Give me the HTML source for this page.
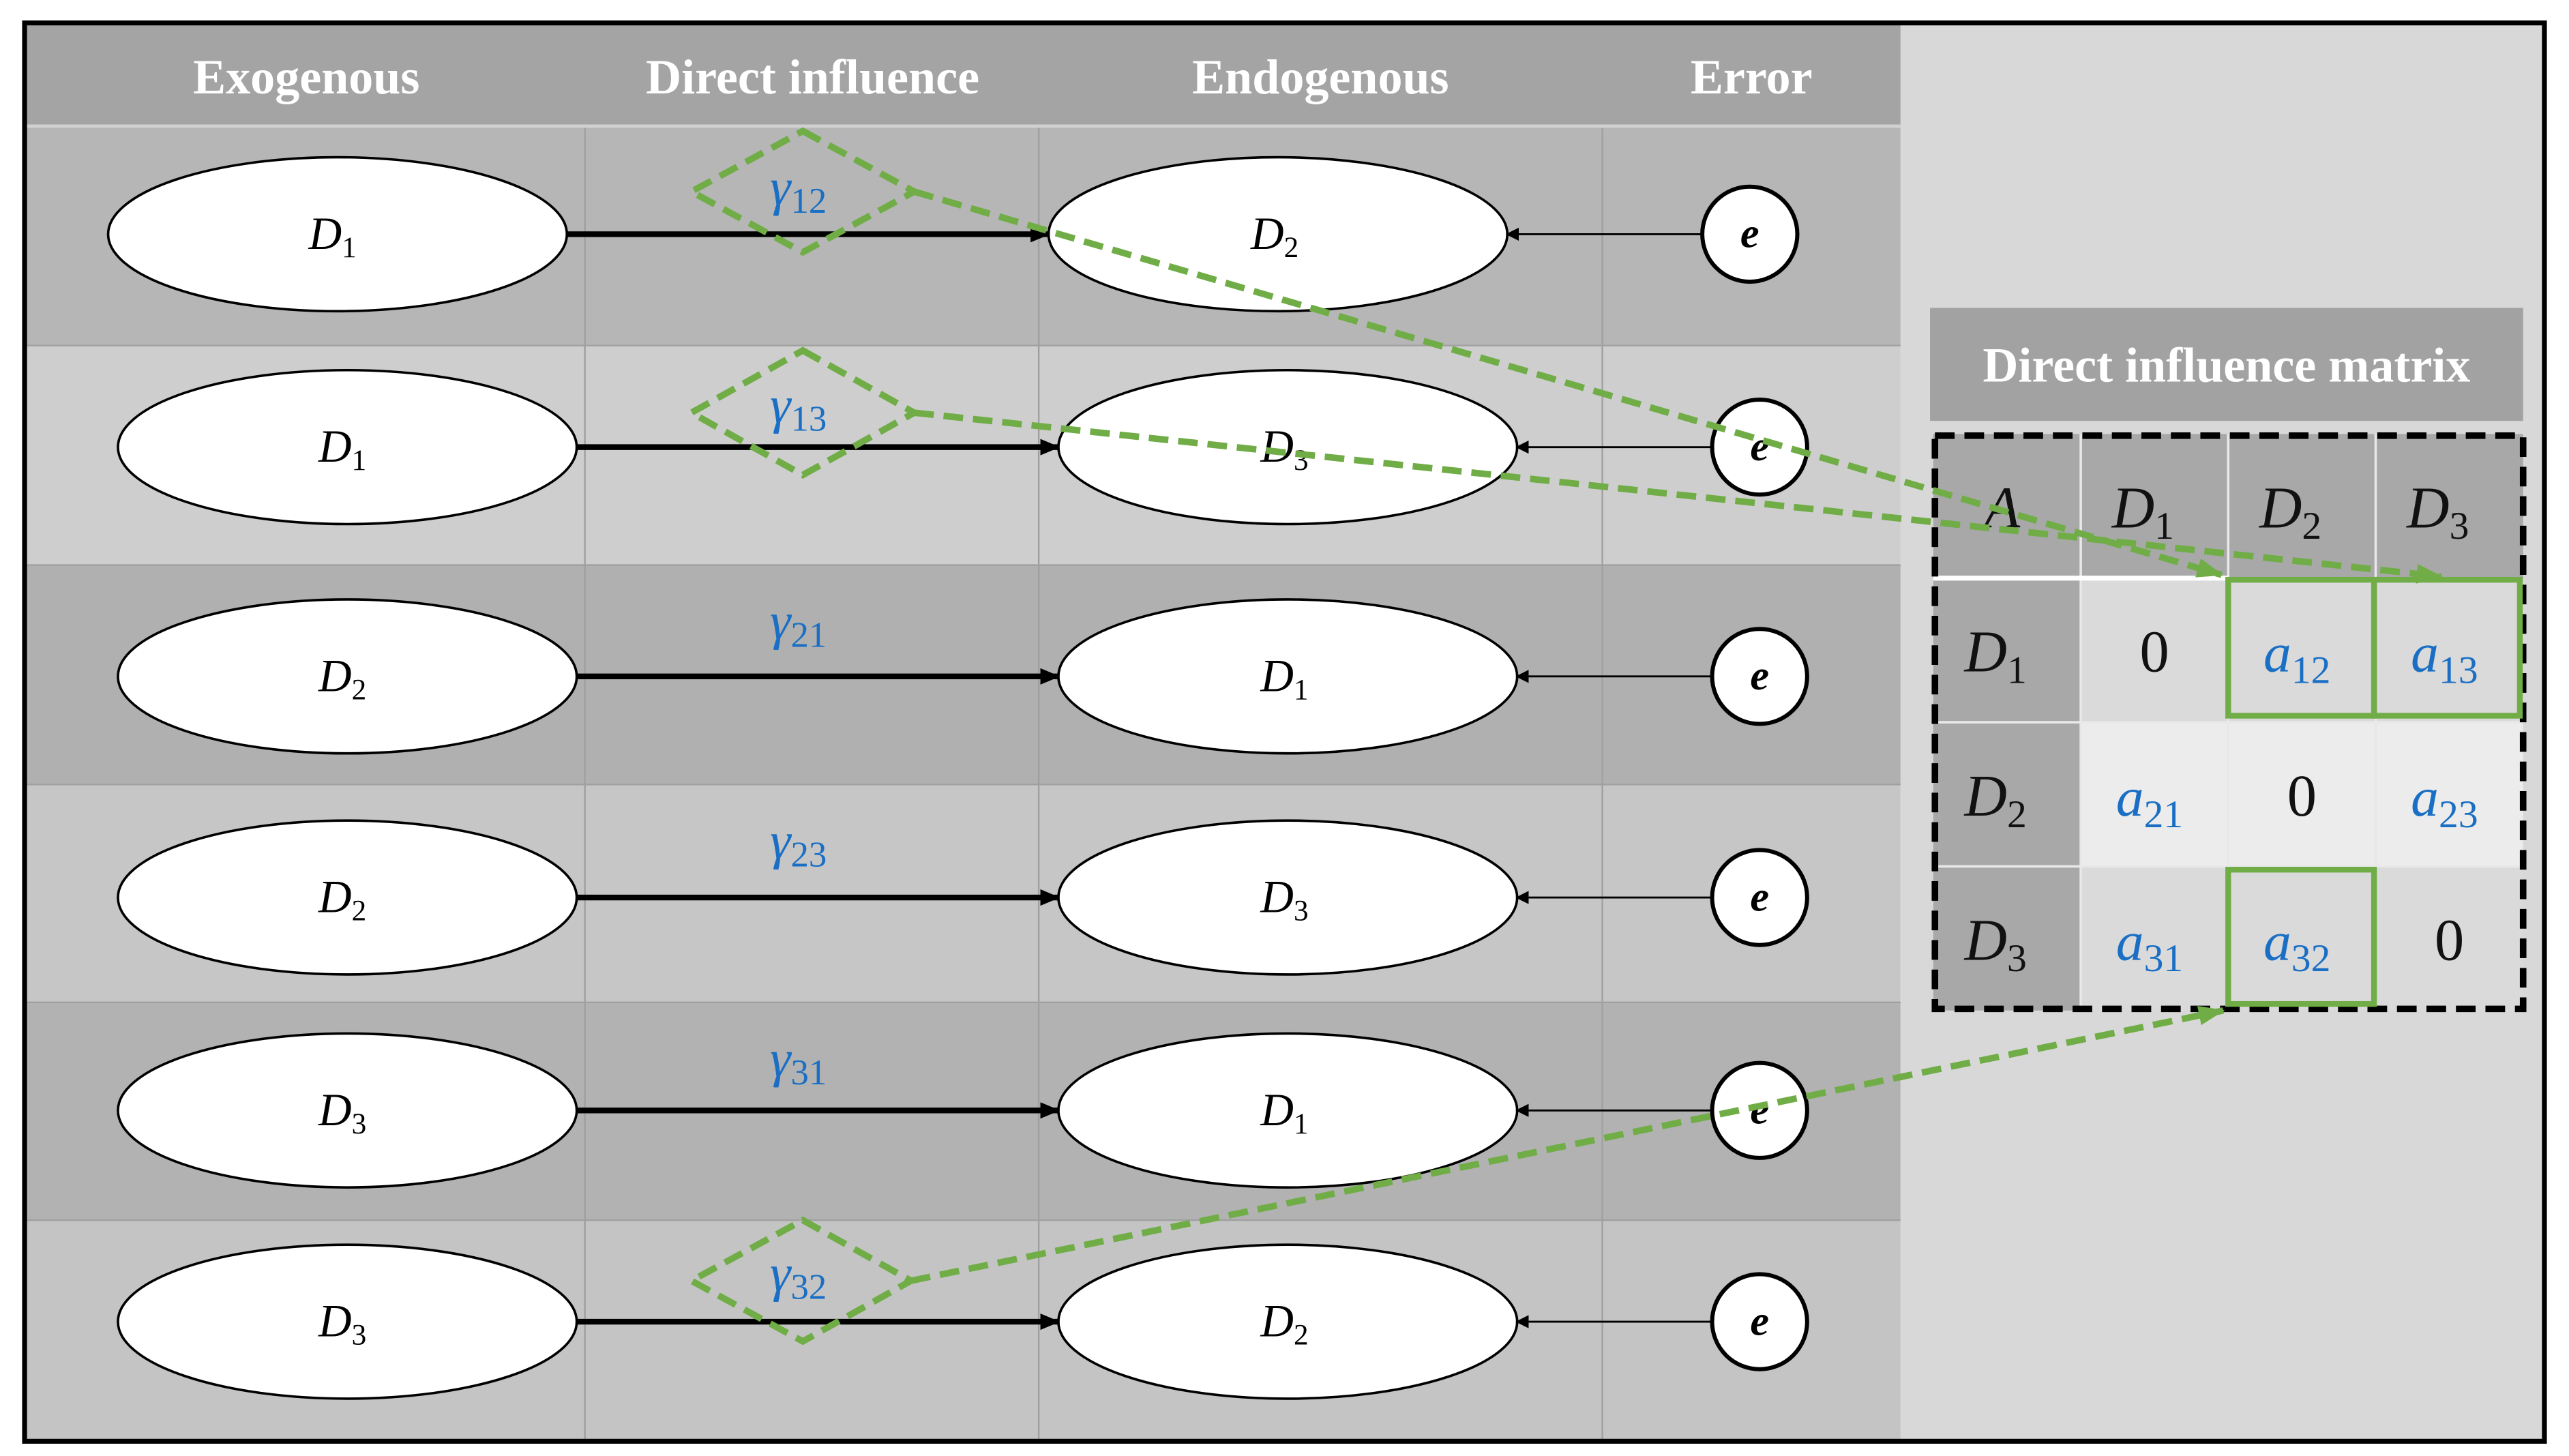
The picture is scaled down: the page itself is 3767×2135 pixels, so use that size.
<!DOCTYPE html>
<html><head><meta charset="utf-8"><style>
html,body{margin:0;padding:0;background:#fff;}
svg{display:block;}
text{font-family:"Liberation Serif",serif;}
</style></head><body>
<svg width="3767" height="2135" viewBox="0 0 1568 889" preserveAspectRatio="none" xmlns="http://www.w3.org/2000/svg">
<defs>
<marker id="ah" markerWidth="8" markerHeight="8" refX="7" refY="4" orient="auto" markerUnits="userSpaceOnUse"><path d="M0,0 L8,4 L0,8 Z" fill="#000"/></marker>
<marker id="ah2" markerWidth="12" markerHeight="10" refX="11" refY="5" orient="auto" markerUnits="userSpaceOnUse"><path d="M0,0 L12,5 L0,10 Z" fill="#000"/></marker>
<marker id="ag" markerWidth="16" markerHeight="12" refX="15" refY="6" orient="auto" markerUnits="userSpaceOnUse"><path d="M0,0 L16,6 L0,12 Z" fill="#70ad47"/></marker>
</defs>
<rect x="0" y="0" width="1568" height="889" fill="#fff"/>
<!-- right panel -->
<rect x="1160" y="15" width="393" height="866" fill="#d8d8d8"/>
<!-- header -->
<rect x="16" y="15" width="1144" height="62" fill="#a4a4a4"/>
<rect x="16" y="76" width="1144" height="2" fill="#d0d0d0"/>
<!-- rows -->
<rect x="16" y="78" width="1144" height="133" fill="#b6b6b6"/>
<rect x="16" y="211" width="1144" height="134" fill="#cecece"/>
<rect x="16" y="345" width="1144" height="134" fill="#b0b0b0"/>
<rect x="16" y="479" width="1144" height="133" fill="#c6c6c6"/>
<rect x="16" y="612" width="1144" height="133" fill="#b2b2b2"/>
<rect x="16" y="745" width="1144" height="135" fill="#c4c4c4"/>
<g stroke="#a0a0a0" stroke-width="1">
<line x1="357" y1="78" x2="357" y2="880"/><line x1="634" y1="78" x2="634" y2="880"/><line x1="978" y1="78" x2="978" y2="880"/>
<line x1="16" y1="211" x2="1160" y2="211"/><line x1="16" y1="345" x2="1160" y2="345"/><line x1="16" y1="479" x2="1160" y2="479"/><line x1="16" y1="612" x2="1160" y2="612"/><line x1="16" y1="745" x2="1160" y2="745"/>
</g>
<g fill="#fff" font-size="30" text-anchor="middle" font-weight="bold">
<text x="187" y="57">Exogenous</text>
<text x="496" y="57">Direct influence</text>
<text x="806" y="57">Endogenous</text>
<text x="1069" y="57">Error</text>
</g>
<!-- rows content -->
<g stroke="#000" stroke-width="1.5" fill="#fff">
<ellipse cx="206" cy="143" rx="140" ry="47"/><ellipse cx="780" cy="143" rx="140" ry="47"/>
<ellipse cx="212" cy="273" rx="140" ry="47"/><ellipse cx="786" cy="273" rx="140" ry="47"/>
<ellipse cx="212" cy="413" rx="140" ry="47"/><ellipse cx="786" cy="413" rx="140" ry="47"/>
<ellipse cx="212" cy="548" rx="140" ry="47"/><ellipse cx="786" cy="548" rx="140" ry="47"/>
<ellipse cx="212" cy="678" rx="140" ry="47"/><ellipse cx="786" cy="678" rx="140" ry="47"/>
<ellipse cx="212" cy="807" rx="140" ry="47"/><ellipse cx="786" cy="807" rx="140" ry="47"/>
</g>
<g stroke="#000" stroke-width="2.5" fill="#fff">
<circle cx="1068" cy="143" r="29"/><circle cx="1074" cy="273" r="29"/><circle cx="1074" cy="413" r="29"/><circle cx="1074" cy="548" r="29"/><circle cx="1074" cy="678" r="29"/><circle cx="1074" cy="807" r="29"/>
</g>
<g stroke="#000" stroke-width="3.5" marker-end="url(#ah2)">
<line x1="346" y1="143" x2="640" y2="143"/>
<line x1="352" y1="273" x2="646" y2="273"/>
<line x1="352" y1="413" x2="646" y2="413"/>
<line x1="352" y1="548" x2="646" y2="548"/>
<line x1="352" y1="678" x2="646" y2="678"/>
<line x1="352" y1="807" x2="646" y2="807"/>
</g>
<g stroke="#000" stroke-width="1.2" marker-end="url(#ah)">
<line x1="1039" y1="143" x2="920" y2="143"/>
<line x1="1045" y1="273" x2="926" y2="273"/>
<line x1="1045" y1="413" x2="926" y2="413"/>
<line x1="1045" y1="548" x2="926" y2="548"/>
<line x1="1045" y1="678" x2="926" y2="678"/>
<line x1="1045" y1="807" x2="926" y2="807"/>
</g>
<g font-size="28" font-style="italic" text-anchor="middle" fill="#000">
<text x="203" y="152">D<tspan font-size="18" font-style="normal" dy="5">1</tspan></text>
<text x="778" y="152">D<tspan font-size="18" font-style="normal" dy="5">2</tspan></text>
<text x="209" y="282">D<tspan font-size="18" font-style="normal" dy="5">1</tspan></text>
<text x="784" y="282">D<tspan font-size="18" font-style="normal" dy="5">3</tspan></text>
<text x="209" y="422">D<tspan font-size="18" font-style="normal" dy="5">2</tspan></text>
<text x="784" y="422">D<tspan font-size="18" font-style="normal" dy="5">1</tspan></text>
<text x="209" y="557">D<tspan font-size="18" font-style="normal" dy="5">2</tspan></text>
<text x="784" y="557">D<tspan font-size="18" font-style="normal" dy="5">3</tspan></text>
<text x="209" y="687">D<tspan font-size="18" font-style="normal" dy="5">3</tspan></text>
<text x="784" y="687">D<tspan font-size="18" font-style="normal" dy="5">1</tspan></text>
<text x="209" y="816">D<tspan font-size="18" font-style="normal" dy="5">3</tspan></text>
<text x="784" y="816">D<tspan font-size="18" font-style="normal" dy="5">2</tspan></text>
</g>
<g font-size="26" font-style="italic" font-weight="bold" text-anchor="middle" fill="#000">
<text x="1068" y="151">e</text><text x="1074" y="281">e</text><text x="1074" y="421">e</text><text x="1074" y="556">e</text><text x="1074" y="686">e</text><text x="1074" y="815">e</text>
</g>
<g font-size="32" font-style="italic" fill="#1a6fc4">
<text x="470" y="125">γ<tspan font-size="22" font-style="normal" dy="5">12</tspan></text>
<text x="470" y="258">γ<tspan font-size="22" font-style="normal" dy="5">13</tspan></text>
<text x="470" y="390">γ<tspan font-size="22" font-style="normal" dy="5">21</tspan></text>
<text x="470" y="524">γ<tspan font-size="22" font-style="normal" dy="5">23</tspan></text>
<text x="470" y="657">γ<tspan font-size="22" font-style="normal" dy="5">31</tspan></text>
<text x="470" y="788">γ<tspan font-size="22" font-style="normal" dy="5">32</tspan></text>
</g>
<!-- matrix title -->
<rect x="1178" y="188" width="362" height="69" fill="#a2a2a2"/>
<text x="1359" y="233" font-size="30" font-weight="bold" fill="#fff" text-anchor="middle">Direct influence matrix</text>
<!-- matrix -->
<rect x="1180" y="265" width="360" height="352" fill="#dadada"/>
<rect x="1180" y="265" width="360" height="88" fill="#a8a8a8"/>
<rect x="1180" y="265" width="90" height="352" fill="#a8a8a8"/>
<rect x="1270" y="441" width="270" height="88" fill="#ececec"/>
<g stroke="#e8e8e8" stroke-width="1.5">
<line x1="1270" y1="265" x2="1270" y2="617"/><line x1="1360" y1="265" x2="1360" y2="617"/><line x1="1450" y1="265" x2="1450" y2="617"/>
<line x1="1180" y1="441" x2="1540" y2="441"/><line x1="1180" y1="529" x2="1540" y2="529"/>
</g>
<line x1="1180" y1="353" x2="1360" y2="353" stroke="#fff" stroke-width="3"/>
<rect x="1181" y="266" width="359" height="350" fill="none" stroke="#000" stroke-width="4" stroke-dasharray="12,6"/>
<g font-size="36" font-style="italic" text-anchor="middle" fill="#111">
<text x="1222" y="322">A</text>
<text x="1308" y="322">D<tspan font-size="24" font-style="normal" dy="7">1</tspan></text>
<text x="1398" y="322">D<tspan font-size="24" font-style="normal" dy="7">2</tspan></text>
<text x="1488" y="322">D<tspan font-size="24" font-style="normal" dy="7">3</tspan></text>
<text x="1218" y="410">D<tspan font-size="24" font-style="normal" dy="7">1</tspan></text>
<text x="1218" y="498">D<tspan font-size="24" font-style="normal" dy="7">2</tspan></text>
<text x="1218" y="586">D<tspan font-size="24" font-style="normal" dy="7">3</tspan></text>
</g>
<g font-size="36" text-anchor="middle" fill="#111">
<text x="1315" y="410">0</text><text x="1405" y="498">0</text><text x="1495" y="586">0</text>
</g>
<g font-size="34" font-style="italic" text-anchor="middle" fill="#1a6fc4">
<text x="1402" y="410">a<tspan font-size="24" font-style="normal" dy="7">12</tspan></text>
<text x="1492" y="410">a<tspan font-size="24" font-style="normal" dy="7">13</tspan></text>
<text x="1312" y="498">a<tspan font-size="24" font-style="normal" dy="7">21</tspan></text>
<text x="1492" y="498">a<tspan font-size="24" font-style="normal" dy="7">23</tspan></text>
<text x="1312" y="586">a<tspan font-size="24" font-style="normal" dy="7">31</tspan></text>
<text x="1402" y="586">a<tspan font-size="24" font-style="normal" dy="7">32</tspan></text>
</g>
<g fill="none" stroke="#70ad47" stroke-width="3.5">
<rect x="1360" y="354" width="89" height="83"/>
<rect x="1449" y="354" width="89" height="83"/>
<rect x="1360" y="531" width="89" height="82"/>
</g>
<!-- green dashed diamonds and connectors -->
<g fill="none" stroke="#70ad47" stroke-width="4" stroke-dasharray="12,6">
<path d="M490,80 L558,117 L490,154 L422,117 Z"/>
<path d="M490,214 L558,252 L490,290 L422,252 Z"/>
<path d="M490,745 L556,782 L490,819 L422,782 Z"/>
<line x1="558" y1="117" x2="1356" y2="351" marker-end="url(#ag)"/>
<line x1="558" y1="252" x2="1490" y2="352" marker-end="url(#ag)"/>
<line x1="556" y1="782" x2="1357" y2="617" marker-end="url(#ag)"/>
</g>
<!-- outer border -->
<rect x="15" y="14" width="1538" height="866" fill="none" stroke="#000" stroke-width="3"/>
</svg>
</body></html>
